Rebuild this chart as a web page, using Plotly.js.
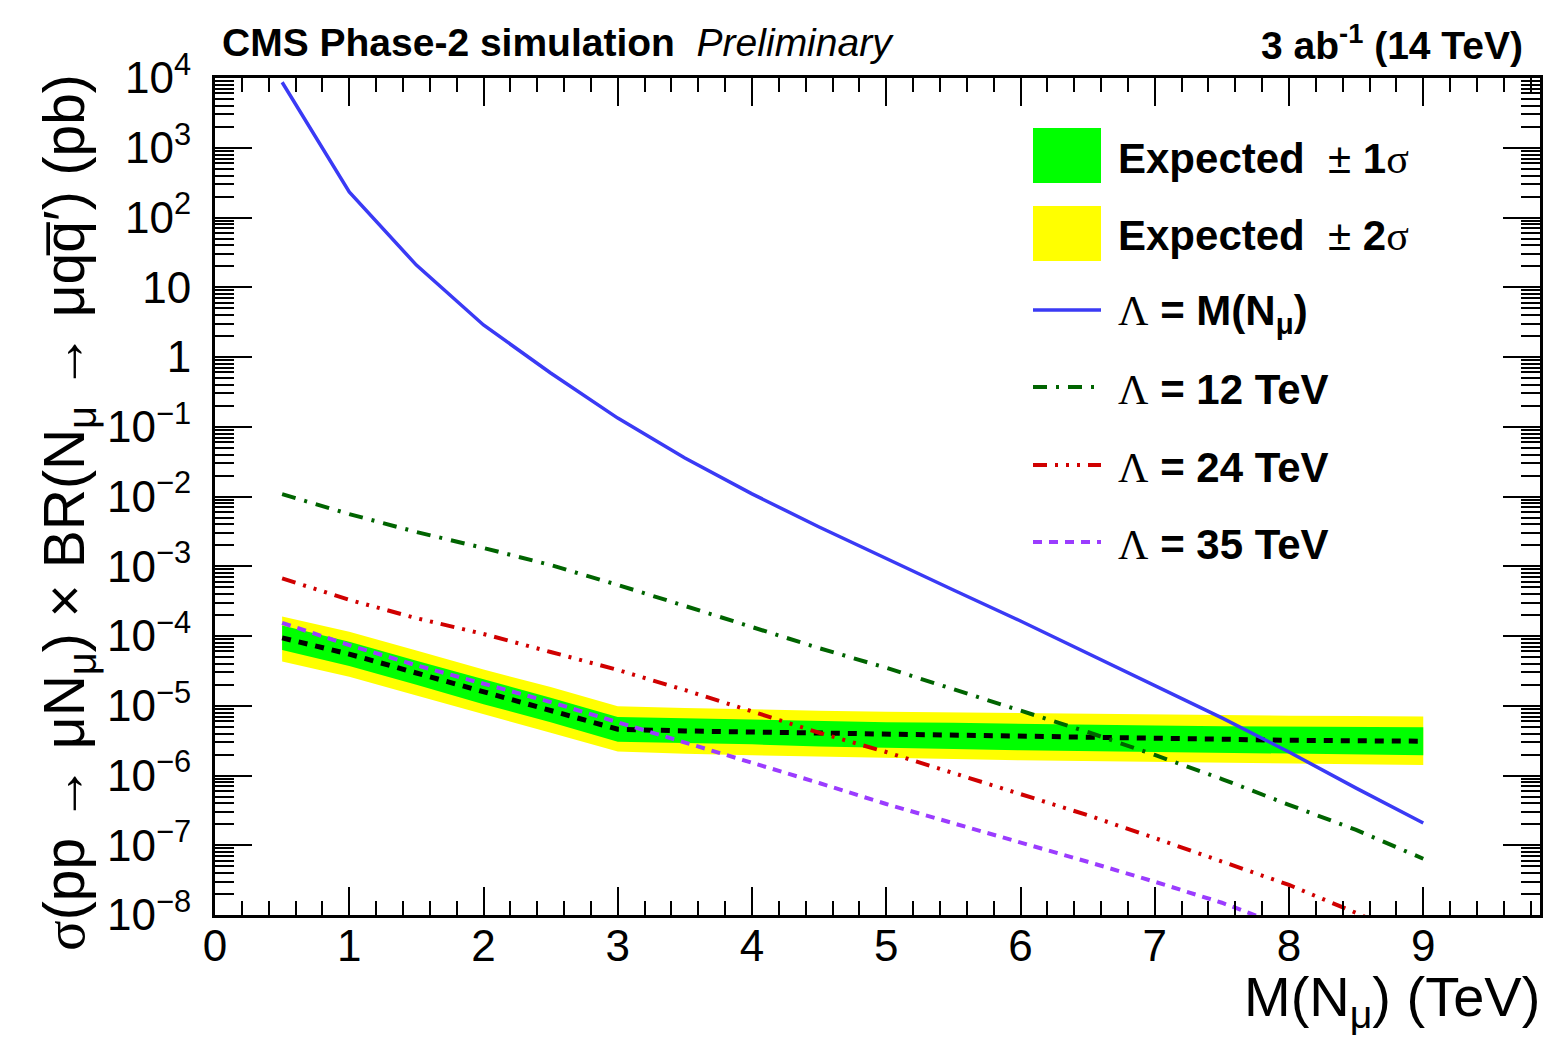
<!DOCTYPE html>
<html>
<head>
<meta charset="utf-8">
<script src="https://cdn.plot.ly/plotly-3.0.1.min.js"></script>
<style>html,body{margin:0;padding:0;background:#fff;}#chart{width:1547px;height:1038px;}</style>
</head>
<body>
<div id="chart"></div>
<script>
// ---------------- data ----------------
const massTeV = [0.5, 1, 1.5, 2, 2.5, 3, 3.5, 4, 4.5, 5, 5.5, 6, 6.5, 7, 7.5, 8, 8.5, 9];

const expected = [9.4e-5, 5.5e-5, 2.95e-5, 1.57e-5, 8.7e-6, 4.6e-6, 4.35e-6, 4.2e-6, 3.95e-6,
                  3.8e-6, 3.7e-6, 3.55e-6, 3.45e-6, 3.35e-6, 3.25e-6, 3.2e-6, 3.15e-6, 3.1e-6];
const exp1sUp = [1.41e-4, 8.3e-5, 4.4e-5, 2.4e-5, 1.3e-5, 6.9e-6, 6.6e-6, 6.4e-6, 6.0e-6,
                 5.8e-6, 5.7e-6, 5.5e-6, 5.3e-6, 5.2e-6, 5.1e-6, 5.0e-6, 4.9e-6, 4.9e-6];
const exp1sDn = [6.3e-5, 3.7e-5, 2.0e-5, 1.05e-5, 5.8e-6, 3.05e-6, 2.9e-6, 2.8e-6, 2.6e-6,
                 2.5e-6, 2.4e-6, 2.3e-6, 2.2e-6, 2.15e-6, 2.1e-6, 2.05e-6, 2.0e-6, 1.95e-6];
const exp2sUp = [1.9e-4, 1.15e-4, 6.2e-5, 3.3e-5, 1.85e-5, 9.8e-6, 9.3e-6, 9.0e-6, 8.5e-6,
                 8.2e-6, 8.0e-6, 7.8e-6, 7.6e-6, 7.5e-6, 7.3e-6, 7.2e-6, 7.1e-6, 7.0e-6];
const exp2sDn = [4.3e-5, 2.6e-5, 1.4e-5, 7.5e-6, 4.1e-6, 2.2e-6, 2.05e-6, 1.95e-6, 1.85e-6,
                 1.78e-6, 1.72e-6, 1.65e-6, 1.6e-6, 1.55e-6, 1.52e-6, 1.48e-6, 1.45e-6, 1.42e-6];

const lambdaEqM = [8700, 232, 20.8, 2.88, 0.59, 0.133, 0.0356, 0.0109, 0.00365, 0.00127,
                   4.56e-4, 1.64e-4, 5.7e-5, 1.98e-5, 6.7e-6, 2.17e-6, 6.6e-7, 2.08e-7];
const lambda12 = [0.0108, 5.6e-3, 3.1e-3, 1.83e-3, 1.04e-3, 5.4e-4, 2.7e-4, 1.35e-4, 6.7e-5,
                  3.5e-5, 1.74e-5, 8.7e-6, 4.2e-6, 1.97e-6, 8.9e-7, 3.8e-7, 1.66e-7, 6.4e-8];
const lambda24 = [6.7e-4, 3.3e-4, 1.8e-4, 1.07e-4, 5.9e-5, 3.26e-5, 1.68e-5, 8.4e-6, 4.1e-6,
                  2.17e-6, 1.09e-6, 5.3e-7, 2.7e-7, 1.27e-7, 5.8e-8, 2.7e-8, 1.07e-8, 4e-9];
const lambda35 = [1.54e-4, 7.4e-5, 3.8e-5, 2.1e-5, 1.13e-5, 5.8e-6, 3.0e-6, 1.56e-6, 7.8e-7,
                  3.9e-7, 2.08e-7, 1.11e-7, 5.8e-8, 3.0e-8, 1.5e-8, 6.5e-9, 3e-9, 1.4e-9];

const yTickVals = [1e-8, 1e-7, 1e-6, 1e-5, 1e-4, 1e-3, 1e-2, 1e-1, 1, 10, 1e2, 1e3, 1e4];
const yTickText = ['10<sup>\u22128</sup>', '10<sup>\u22127</sup>', '10<sup>\u22126</sup>', '10<sup>\u22125</sup>',
                   '10<sup>\u22124</sup>', '10<sup>\u22123</sup>', '10<sup>\u22122</sup>', '10<sup>\u22121</sup>',
                   '1', '10', '10<sup>2</sup>', '10<sup>3</sup>', '10<sup>4</sup>'];

// ---------------- layout geometry ----------------
const W = 1547, H = 1038;
const L = 215, R = 1540, T = 78, B = 915;
const FONT = 'Liberation Sans, Arial, Helvetica, sans-serif';
const px = v => (v - L) / (R - L);
const py = v => (B - v) / (B - T);

// minor ticks on log axis: 2..9 in each decade
const yMinor = [];
for (let e = -8; e < 4; e++) for (let d = 2; d <= 9; d++) yMinor.push(d * Math.pow(10, e));

// band polygons
const bandX = massTeV.concat(massTeV.slice().reverse());
const band2Y = exp2sUp.concat(exp2sDn.slice().reverse());
const band1Y = exp1sUp.concat(exp1sDn.slice().reverse());

const styles = {
  blue:   {color: '#3a3af5', width: 3.5, dash: 'solid'},
  green:  {color: '#006400', width: 4, dash: '14px,9px,3px,9px'},
  red:    {color: '#d00000', width: 4, dash: '14px,8px,3px,8px,3px,8px,3px,8px'},
  purple: {color: '#9b3cff', width: 4, dash: '9px,7px'},
  black:  {color: '#000000', width: 5, dash: '9px,8px'}
};

const traces = [
  {x: bandX, y: band2Y, type: 'scatter', mode: 'lines', fill: 'toself', fillcolor: '#ffff00',
   line: {width: 0, color: '#ffff00'}, name: 'Expected \u00b1 2\u03c3', hoverinfo: 'skip'},
  {x: bandX, y: band1Y, type: 'scatter', mode: 'lines', fill: 'toself', fillcolor: '#00ff00',
   line: {width: 0, color: '#00ff00'}, name: 'Expected \u00b1 1\u03c3', hoverinfo: 'skip'},
  {x: massTeV, y: expected, type: 'scatter', mode: 'lines', line: styles.black, name: 'Expected'},
  {x: massTeV, y: lambda35, type: 'scatter', mode: 'lines', line: styles.purple, name: '\u039b = 35 TeV'},
  {x: massTeV, y: lambda24, type: 'scatter', mode: 'lines', line: styles.red, name: '\u039b = 24 TeV'},
  {x: massTeV, y: lambda12, type: 'scatter', mode: 'lines', line: styles.green, name: '\u039b = 12 TeV'},
  {x: massTeV, y: lambdaEqM, type: 'scatter', mode: 'lines', line: styles.blue, name: '\u039b = M(N\u03bc)'}
];

// ---------------- manual ROOT-style legend ----------------
const legX0 = 1033, legX1 = 1101, legTextX = 1116;
const shapes = [
  {type: 'rect', xref: 'paper', yref: 'paper', x0: px(legX0), x1: px(legX1), y0: py(128), y1: py(183),
   fillcolor: '#00ff00', line: {width: 0}},
  {type: 'rect', xref: 'paper', yref: 'paper', x0: px(legX0), x1: px(legX1), y0: py(206), y1: py(261),
   fillcolor: '#ffff00', line: {width: 0}}
];
const legLines = [[310, styles.blue], [387, styles.green], [465, styles.red], [542, styles.purple]];
legLines.forEach(([yy, st]) => shapes.push({type: 'line', xref: 'paper', yref: 'paper',
  x0: px(legX0), x1: px(legX1), y0: py(yy), y1: py(yy), line: {color: st.color, width: st.width, dash: st.dash}}));

const SERIF = "font-family:'Liberation Serif','DejaVu Serif',serif";
const legTexts = [
  [158, '<b>Expected</b>  \u00b1 <b>1</b><span style="' + SERIF + '">\u03c3</span>'],
  [235, '<b>Expected</b>  \u00b1 <b>2</b><span style="' + SERIF + '">\u03c3</span>'],
  [313, '<span style="' + SERIF + '">\u039b</span> <b>= M(N<sub>\u03bc</sub>)</b>'],
  [390, '<span style="' + SERIF + '">\u039b</span> <b>= 12 TeV</b>'],
  [467, '<span style="' + SERIF + '">\u039b</span> <b>= 24 TeV</b>'],
  [544, '<span style="' + SERIF + '">\u039b</span> <b>= 35 TeV</b>']
];

const annotations = legTexts.map(([yy, t]) => ({
  xref: 'paper', yref: 'paper', x: px(legTextX), y: py(yy), xanchor: 'left', yanchor: 'middle',
  text: t, showarrow: false, font: {family: FONT, size: 42, color: '#000'}
}));

annotations.push(
  {xref: 'paper', yref: 'paper', x: px(220), y: py(42), xanchor: 'left', yanchor: 'middle', showarrow: false,
   text: '<b>CMS Phase-2 simulation</b>  <i>Preliminary</i>', font: {family: FONT, size: 39, color: '#000'}},
  {xref: 'paper', yref: 'paper', x: px(1525), y: py(42), xanchor: 'right', yanchor: 'middle', showarrow: false,
   text: '<b>3 ab<sup>-1</sup> (14 TeV)</b>', font: {family: FONT, size: 39, color: '#000'}},
  {xref: 'paper', yref: 'paper', x: px(1542), y: py(1000), xanchor: 'right', yanchor: 'middle', showarrow: false,
   text: 'M(N<sub>\u03bc</sub>) (TeV)', font: {family: FONT, size: 56, color: '#000'}},
  {xref: 'paper', yref: 'paper', x: px(68), y: py(513), xanchor: 'center', yanchor: 'middle', showarrow: false,
   textangle: -90,
   text: '<span style="' + SERIF + '">\u03c3</span>(pp \u2192 \u03bcN<sub>\u03bc</sub>) \u00d7 BR(N<sub>\u03bc</sub> \u2192 \u03bcqq\u0305\u2032) (pb)',
   font: {family: FONT, size: 57, color: '#000'}}
);

const layout = {
  width: W, height: H,
  margin: {l: L, r: W - R, t: T, b: H - B, pad: 0},
  paper_bgcolor: '#fff', plot_bgcolor: '#fff',
  showlegend: false,
  font: {family: FONT, color: '#000'},
  xaxis: {
    range: [0, (R - L) / 134.25], tickmode: 'linear', tick0: 0, dtick: 1,
    ticks: 'inside', ticklen: 28, tickwidth: 2, tickcolor: '#000',
    showline: true, linewidth: 3, linecolor: '#000', mirror: 'allticks',
    showgrid: false, zeroline: false,
    tickfont: {family: FONT, size: 44, color: '#000'}, ticklabelstandoff: -10,
    minor: {tick0: 0, dtick: 0.2, ticks: 'inside', ticklen: 14, tickwidth: 2, tickcolor: '#000', showgrid: false}
  },
  yaxis: {
    type: 'log', range: [-8, 4], tickmode: 'array', tickvals: yTickVals, ticktext: yTickText,
    ticks: 'inside', ticklen: 37, tickwidth: 2, tickcolor: '#000',
    showline: true, linewidth: 3, linecolor: '#000', mirror: 'allticks',
    showgrid: false, zeroline: false,
    tickfont: {family: FONT, size: 44, color: '#000'}, ticklabelstandoff: 12,
    minor: {tickmode: 'array', tickvals: yMinor, ticks: 'inside', ticklen: 19, tickwidth: 2, tickcolor: '#000', showgrid: false}
  },
  shapes: shapes,
  annotations: annotations
};

Plotly.newPlot('chart', traces, layout, {staticPlot: true, displayModeBar: false});
</script>
</body>
</html>
